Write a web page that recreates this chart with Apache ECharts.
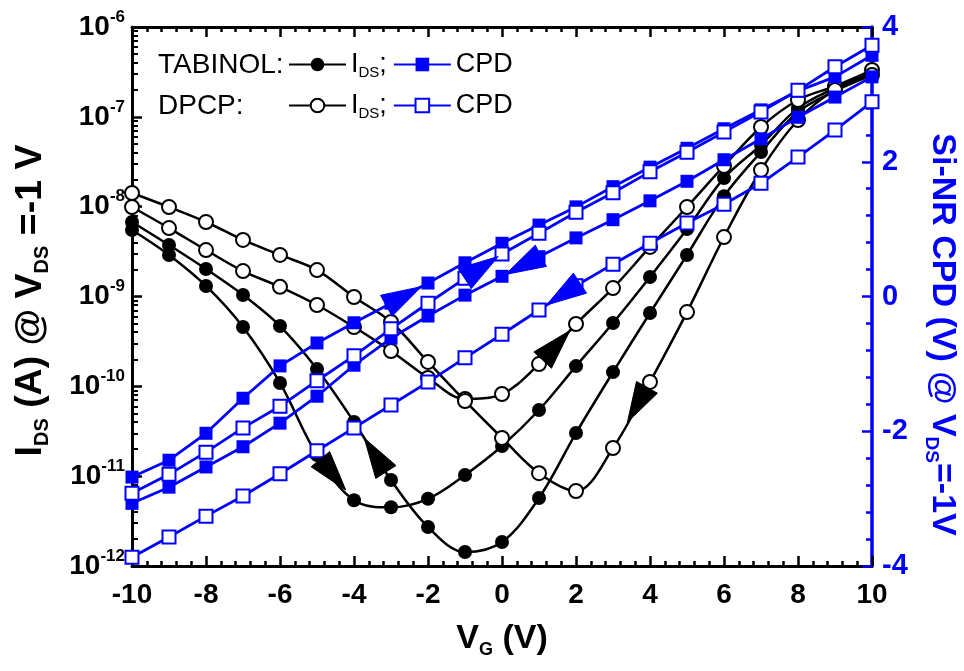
<!DOCTYPE html>
<html><head><meta charset="utf-8">
<script src="https://cdn.jsdelivr.net/npm/echarts@6/dist/echarts.min.js"></script>
<style>html,body{margin:0;padding:0;background:#fff}#c{width:964px;height:671px}</style>
</head><body><div id="c"></div>
<script>
// ---- data ----
const VG = [-10,-9,-8,-7,-6,-5,-4,-3,-2,-1,0,1,2,3,4,5,6,7,8,9,10];
// I_DS (A), TABINOL (filled circles)
const TAB_IDS_FWD = [5.5e-9,2.9e-9,1.31e-9,4.57e-10,1.09e-10,1.72e-11,5.4e-12,4.5e-12,5.6e-12,1.03e-11,2.17e-11,5.45e-11,1.68e-10,5.07e-10,1.65e-9,5.64e-9,2.08e-8,4.86e-8,1.25e-7,2.09e-7,3.08e-7];
const TAB_IDS_REV = [6.75e-9,3.74e-9,2.02e-9,1.04e-9,4.69e-10,1.56e-10,4.01e-11,9.06e-12,2.72e-12,1.43e-12,1.85e-12,5.71e-12,3.02e-11,1.44e-10,6.55e-10,2.9e-9,1.31e-8,4.06e-8,1.13e-7,1.94e-7,2.92e-7];
// I_DS (A), DPCP (open circles)
const DPCP_IDS_FWD = [9.91e-9,5.78e-9,3.29e-9,1.92e-9,1.28e-9,8.04e-10,4.57e-10,2.47e-10,1.24e-10,7.23e-11,8.21e-11,1.77e-10,4.94e-10,1.24e-9,3.56e-9,9.91e-9,2.84e-8,7.71e-8,1.54e-7,2.2e-7,3.32e-7];
const DPCP_IDS_REV = [1.42e-8,9.91e-9,6.75e-9,4.26e-9,2.9e-9,1.97e-9,9.87e-10,5.2e-10,1.87e-10,6.87e-11,2.66e-11,1.08e-11,6.84e-12,2.06e-11,1.12e-10,6.71e-10,4.59e-9,2.56e-8,9.22e-8,1.99e-7,2.92e-7];
// Si-NR CPD (V), TABINOL (filled squares)
const TAB_CPD_FWD = [-2.68,-2.43,-2.03,-1.51,-1.03,-0.69,-0.39,-0.10,0.20,0.50,0.79,1.06,1.33,1.63,1.92,2.20,2.49,2.77,3.05,3.26,3.58];
const TAB_CPD_REV = [-3.07,-2.83,-2.53,-2.23,-1.88,-1.48,-1.02,-0.62,-0.29,0.02,0.30,0.59,0.87,1.14,1.42,1.71,2.03,2.34,2.66,2.96,3.26];
// Si-NR CPD (V), DPCP (open squares)
const DPCP_CPD_FWD = [-2.92,-2.64,-2.31,-1.95,-1.63,-1.25,-0.88,-0.48,-0.10,0.27,0.63,0.94,1.25,1.54,1.85,2.14,2.44,2.74,3.06,3.41,3.73];
const DPCP_CPD_REV = [-3.87,-3.57,-3.26,-2.96,-2.63,-2.29,-1.95,-1.61,-1.27,-0.91,-0.56,-0.20,0.16,0.48,0.79,1.09,1.37,1.68,2.07,2.47,2.89];
// sweep-direction arrows: [curve, from index, toward index, fraction along the segment]
const ARROWS_IDS = [['tabF',5,6,0.4],['tabR',7,6,0.4],['dpF',11,12,0.43],['dpR',14,13,0.32]];
const ARROWS_CPD = [['tabCF',7,8,0.3],['dpCF',9,10,0.4],['tabCR',11,10,0.38],['dpCR',12,11,0.3]];
const LOG_MIN = 1e-12, LOG_MAX = 1e-6;

const CURVES = {tabF:TAB_IDS_FWD,tabR:TAB_IDS_REV,dpF:DPCP_IDS_FWD,dpR:DPCP_IDS_REV,
  tabCF:TAB_CPD_FWD,tabCR:TAB_CPD_REV,dpCF:DPCP_CPD_FWD,dpCR:DPCP_CPD_REV};

const FONT = '"Liberation Sans Narrow","Arial Narrow","Liberation Sans",Arial,sans-serif';
const BLUE = '#0000ff';
const pairs = arr => VG.map((v,i)=>[v,arr[i]]);

// minor log ticks (2..9 x 10^n)
const logMinor = [];
for (let e=-12; e<-6; e++) for (let k=2;k<=9;k++) logMinor.push(+(k*Math.pow(10,e)).toPrecision(3));

function arrowSeries(defs, yIdx, color) {
  const data = defs.map(d => { const a = CURVES[d[0]]; return [VG[d[1]], a[d[1]], VG[d[2]], a[d[2]], d[3]]; });
  return {
    type:'custom', xAxisIndex:0, yAxisIndex:yIdx, data, z:6, silent:true,
    dimensions:['x1','y1','x2','y2','t'],
    encode:{x:[0,2], y:[1,3]},
    renderItem(params, api) {
      const p1 = api.coord([api.value(0), api.value(1)]);
      const p2 = api.coord([api.value(2), api.value(3)]);
      const t = api.value(4);
      const cx = p1[0]+(p2[0]-p1[0])*t, cy = p1[1]+(p2[1]-p1[1])*t;
      const dx = p2[0]-p1[0], dy = p2[1]-p1[1], len = Math.hypot(dx,dy);
      const ux = dx/len, uy = dy/len, nx = -uy, ny = ux;
      const L = 40, W = 24;
      return {type:'polygon', shape:{points:[
        [cx+ux*L*0.55, cy+uy*L*0.55],
        [cx-ux*L*0.45+nx*W/2, cy-uy*L*0.45+ny*W/2],
        [cx-ux*L*0.45-nx*W/2, cy-uy*L*0.45-ny*W/2]]}, style:{fill:color, stroke:color, lineWidth:1}};
    }
  };
}

const idsLine = {color:'#000', width:2.5};
const cpdLine = {color:BLUE, width:2.8};
const series = [
  {name:'TABINOL IDS', type:'line', yAxisIndex:0, data:pairs(TAB_IDS_FWD), smooth:0.35, symbol:'circle', symbolSize:14, lineStyle:idsLine, itemStyle:{color:'#000'}, z:3},
  {name:'TABINOL IDS', type:'line', yAxisIndex:0, data:pairs(TAB_IDS_REV), smooth:0.35, symbol:'circle', symbolSize:14, lineStyle:idsLine, itemStyle:{color:'#000'}, z:3},
  {name:'DPCP IDS', type:'line', yAxisIndex:0, data:pairs(DPCP_IDS_FWD), smooth:0.35, symbol:'emptyCircle', symbolSize:14, lineStyle:idsLine, itemStyle:{color:'#000', borderWidth:1.5}, z:3},
  {name:'DPCP IDS', type:'line', yAxisIndex:0, data:pairs(DPCP_IDS_REV), smooth:0.35, symbol:'emptyCircle', symbolSize:14, lineStyle:idsLine, itemStyle:{color:'#000', borderWidth:1.5}, z:3},
  {name:'TABINOL CPD', type:'line', yAxisIndex:2, data:pairs(TAB_CPD_FWD), symbol:'rect', symbolSize:13, lineStyle:cpdLine, itemStyle:{color:BLUE}, z:4},
  {name:'TABINOL CPD', type:'line', yAxisIndex:2, data:pairs(TAB_CPD_REV), symbol:'rect', symbolSize:13, lineStyle:cpdLine, itemStyle:{color:BLUE}, z:4},
  {name:'DPCP CPD', type:'line', yAxisIndex:2, data:pairs(DPCP_CPD_FWD), symbol:'emptyRect', symbolSize:13, lineStyle:cpdLine, itemStyle:{color:BLUE, borderWidth:1.5}, z:4},
  {name:'DPCP CPD', type:'line', yAxisIndex:2, data:pairs(DPCP_CPD_REV), symbol:'emptyRect', symbolSize:13, lineStyle:cpdLine, itemStyle:{color:BLUE, borderWidth:1.5}, z:4},
  arrowSeries(ARROWS_IDS, 0, '#000'),
  arrowSeries(ARROWS_CPD, 2, BLUE)
];

const legendText = {fontFamily:FONT, fontSize:27, color:'#000',
  rich:{m:{fontFamily:FONT, fontSize:27, color:'#000'}, s:{fontFamily:FONT, fontSize:15, color:'#000', padding:[16,0,0,0]}}};
const legendFmt = n => n.endsWith('IDS') ? '{m|I}{s|DS}{m|;}' : '{m|CPD}';
const legendBase = {orient:'horizontal', itemWidth:57, itemHeight:17, itemGap:6, selectedMode:false, textStyle:legendText, formatter:legendFmt};

const xCommon = {type:'value', min:-10, max:10, interval:2,
  axisLine:{onZero:false, lineStyle:{color:'#000', width:3}},
  axisTick:{inside:true, length:10, lineStyle:{color:'#000', width:2.5}},
  minorTick:{show:true, splitNumber:5, length:5, lineStyle:{color:'#000', width:2.5}},
  splitLine:{show:false}, minorSplitLine:{show:false}};

const option = {
  animation:false,
  backgroundColor:'#fff',
  grid:{left:132, right:92, top:27, bottom:105, containLabel:false, outerBoundsMode:'none'},
  legend:[
    Object.assign({}, legendBase, {data:['TABINOL IDS','TABINOL CPD'], left:283, top:46}),
    Object.assign({}, legendBase, {data:['DPCP IDS','DPCP CPD'], left:283, top:87})
  ],
  graphic:[
    {type:'text', left:158, top:51, style:{text:'TABINOL:', font:'28px '+FONT, fill:'#000'}},
    {type:'text', left:158, top:92, style:{text:'DPCP:', font:'28px '+FONT, fill:'#000'}}
  ],
  xAxis:[
    Object.assign({}, xCommon, {position:'bottom',
      axisLabel:{color:'#000', fontFamily:FONT, fontWeight:'bold', fontSize:28, margin:15},
      name:'V{s|G} (V)', nameLocation:'middle', nameGap:53,
      nameTextStyle:{fontFamily:FONT, fontWeight:'bold', fontSize:34, color:'#000',
        rich:{s:{fontFamily:FONT, fontWeight:'bold', fontSize:18, color:'#000', padding:[22,0,0,0]}}}}),
    Object.assign({}, xCommon, {position:'top', axisLabel:{show:false}})
  ],
  yAxis:[
    {type:'log', logBase:10, min:LOG_MIN, max:LOG_MAX, position:'left',
      axisLine:{onZero:false, lineStyle:{color:'#000', width:3}},
      axisTick:{inside:true, length:10, lineStyle:{color:'#000', width:2.5}},
      splitLine:{show:false},
      axisLabel:{margin:7, formatter:v => '{b|10}{e|'+Math.round(Math.log10(v))+'}',
        rich:{b:{fontFamily:FONT, fontWeight:'bold', fontSize:28, color:'#000'},
              e:{fontFamily:FONT, fontWeight:'bold', fontSize:17, color:'#000', padding:[0,0,20,0]}}},
      name:'I{s|DS} (A) @ V{s|DS} =-1 V', nameLocation:'middle', nameGap:80, nameRotate:90,
      nameTextStyle:{fontFamily:FONT, fontWeight:'bold', fontSize:37.5, color:'#000', padding:[0,8,0,0],
        rich:{s:{fontFamily:FONT, fontWeight:'bold', fontSize:20, color:'#000', padding:[22,0,0,0]}}}},
    {type:'log', logBase:10, min:LOG_MIN, max:LOG_MAX, position:'left',
      axisLine:{show:false, onZero:false}, axisLabel:{show:false}, splitLine:{show:false},
      axisTick:{inside:true, length:6, customValues:logMinor, lineStyle:{color:'#000', width:2}}},
    {type:'value', min:-4, max:4, interval:2, position:'right',
      axisLine:{onZero:false, lineStyle:{color:BLUE, width:3.5}},
      axisTick:{inside:true, length:10, lineStyle:{color:BLUE, width:2.5}},
      minorTick:{show:true, splitNumber:5, length:6, lineStyle:{color:BLUE, width:2.5}},
      splitLine:{show:false}, minorSplitLine:{show:false},
      axisLabel:{color:BLUE, fontFamily:FONT, fontWeight:'bold', fontSize:29, margin:10},
      name:'Si-NR CPD (V) @ V{s|DS}=-1V', nameLocation:'middle', nameGap:50, nameRotate:-90,
      nameTextStyle:{fontFamily:FONT, fontWeight:'bold', fontSize:34, color:BLUE, padding:[0,0,0,76],
        rich:{s:{fontFamily:FONT, fontWeight:'bold', fontSize:19, color:BLUE, padding:[22,0,0,0]}}}}
  ],
  series
};
const chart = echarts.init(document.getElementById('c'), null, {renderer:'canvas'});
chart.setOption(option);
</script>
</body></html>
